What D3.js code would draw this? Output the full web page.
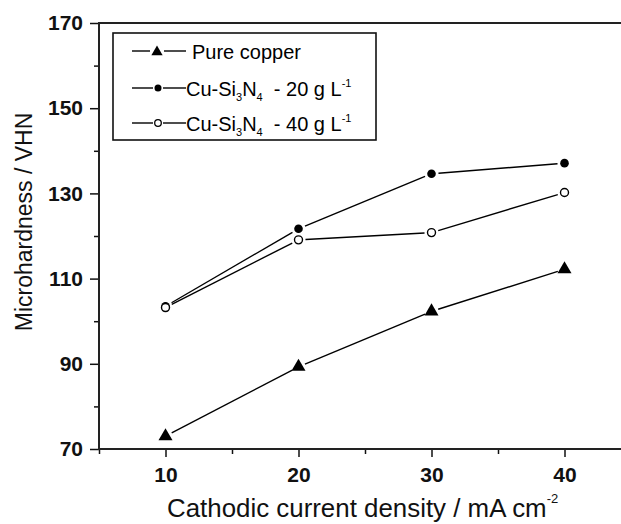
<!DOCTYPE html>
<html>
<head>
<meta charset="utf-8">
<script src="https://cdn.jsdelivr.net/npm/d3@7"></script>
<style>
  body { margin: 0; background: #fff; }
  svg { display: block; font-family: Arial, "Liberation Sans", sans-serif; }
</style>
</head>
<body>
<svg id="chart" width="621" height="524"></svg>
<script>
// values
var density = [10, 20, 30, 40];
var pureCopper = [73, 89.3, 102.3, 112.2];
var cuSi20 = [103.5, 121.7, 134.6, 137.1];
var cuSi40 = [103.2, 119.1, 120.8, 130.2];
var yMajor = [70, 90, 110, 130, 150, 170];
var yMinor = [80, 100, 120, 140, 160];
var xMajor = [10, 20, 30, 40];
var xMinor = [5, 15, 25, 35];

var svg = d3.select('#chart');

var x = d3.scaleLinear().domain([5, 45]).range([99, 631]);
var y = d3.scaleLinear().domain([70, 170]).range([449, 23]);

// minor ticks first, no labels
svg.append('g').attr('transform', 'translate(99,0)')
  .call(d3.axisLeft(y).tickValues(yMinor).tickSize(5).tickFormat(''))
  .call(function (g) { g.select('.domain').remove(); });
svg.append('g').attr('transform', 'translate(0,449)')
  .call(d3.axisBottom(x).tickValues(xMinor).tickSize(5).tickFormat(''))
  .call(function (g) { g.select('.domain').remove(); });

// major ticks with labels
var yAx = svg.append('g').attr('transform', 'translate(99,0)')
  .call(d3.axisLeft(y).tickValues(yMajor).tickSize(9).tickPadding(7).tickFormat(d3.format('d')));
yAx.select('.domain').remove();
var xAx = svg.append('g').attr('transform', 'translate(0,449)')
  .call(d3.axisBottom(x).tickValues(xMajor).tickSize(8).tickPadding(10).tickFormat(d3.format('d')));
xAx.select('.domain').remove();

svg.selectAll('.tick line').attr('stroke', '#111').attr('stroke-width', 1.5);
svg.selectAll('.tick text')
  .attr('font-size', 21).attr('font-weight', 'bold')
  .attr('font-family', 'Arial, "Liberation Sans", sans-serif').attr('fill', '#111');

// frame: left, bottom, top (right side runs off the picture)
svg.append('path')
  .attr('d', 'M' + x(45) + ',' + y(170) + 'H' + x(5) + 'V' + y(70) + 'H' + x(45))
  .attr('fill', 'none').attr('stroke', '#222').attr('stroke-width', 2);

// series lines, broken near each marker
var gap = 7;
function drawSeries(vals) {
  var pts = density.map(function (d, i) { return [x(d), y(vals[i])]; });
  for (var i = 0; i < pts.length - 1; i++) {
    var a = pts[i], b = pts[i + 1];
    var dx = b[0] - a[0], dy = b[1] - a[1], len = Math.sqrt(dx * dx + dy * dy);
    var ux = dx / len, uy = dy / len;
    svg.append('line')
      .attr('x1', a[0] + ux * gap).attr('y1', a[1] + uy * gap)
      .attr('x2', b[0] - ux * gap).attr('y2', b[1] - uy * gap)
      .attr('stroke', '#000').attr('stroke-width', 1.4);
  }
  return pts;
}

var tri = d3.symbol().type(d3.symbolTriangle).size(85);

drawSeries(cuSi40);
drawSeries(cuSi20);
drawSeries(pureCopper);

svg.selectAll('.m20').data(cuSi20).enter().append('circle')
  .attr('cx', function (d, i) { return x(density[i]); })
  .attr('cy', function (d) { return y(d); })
  .attr('r', 4.3).attr('fill', '#000');
svg.selectAll('.m40').data(cuSi40).enter().append('circle')
  .attr('cx', function (d, i) { return x(density[i]); })
  .attr('cy', function (d) { return y(d); })
  .attr('r', 4).attr('fill', '#fff').attr('stroke', '#000').attr('stroke-width', 1.4);
svg.selectAll('.mpc').data(pureCopper).enter().append('path')
  .attr('d', tri)
  .attr('transform', function (d, i) { return 'translate(' + x(density[i]) + ',' + y(d) + ')'; })
  .attr('fill', '#000');

// legend
svg.append('rect')
  .attr('x', 113).attr('y', 33).attr('width', 263).attr('height', 107)
  .attr('fill', '#fff').attr('stroke', '#111').attr('stroke-width', 1.6);

var legRows = [51, 88, 123];
function legLine(yy, x1, x2) {
  svg.append('line').attr('x1', x1).attr('x2', x2).attr('y1', yy).attr('y2', yy)
    .attr('stroke', '#000').attr('stroke-width', 1.4);
}
legLine(legRows[0], 132, 150); legLine(legRows[0], 164, 186);
svg.append('path').attr('d', d3.symbol().type(d3.symbolTriangle).size(55))
  .attr('transform', 'translate(157,' + (legRows[0] + 1) + ')').attr('fill', '#000');
legLine(legRows[1], 132, 153); legLine(legRows[1], 163, 186);
svg.append('circle').attr('cx', 158).attr('cy', legRows[1]).attr('r', 3.5).attr('fill', '#000');
legLine(legRows[2], 132, 153); legLine(legRows[2], 163, 186);
svg.append('circle').attr('cx', 158).attr('cy', legRows[2]).attr('r', 3.3)
  .attr('fill', '#fff').attr('stroke', '#000').attr('stroke-width', 1.3);

svg.append('text').attr('x', 192).attr('y', legRows[0] + 8)
  .attr('font-size', 20).text('Pure copper');

function cuLabel(yy, conc) {
  var t = svg.append('text').attr('x', 186).attr('y', yy).attr('font-size', 20);
  t.append('tspan').text('Cu-Si');
  t.append('tspan').attr('font-size', 11).attr('dy', 5).text('3');
  t.append('tspan').attr('dy', -5).text('N');
  t.append('tspan').attr('font-size', 11).attr('dy', 5).text('4');
  t.append('tspan').attr('dy', -5).attr('xml:space', 'preserve').text('  - ' + conc + ' g L');
  t.append('tspan').attr('font-size', 11).attr('dy', -9).text('-1');
}
cuLabel(legRows[1] + 8, 20);
cuLabel(legRows[2] + 8, 40);

// axis titles
svg.append('text')
  .attr('transform', 'translate(32,222) rotate(-90)')
  .attr('text-anchor', 'middle').attr('font-size', 23).attr('fill', '#111')
  .text('Microhardness / VHN');

// x title: fit main part to the width seen in the reference (~380px)
var xt = svg.append('text').attr('x', 167).attr('y', 517).attr('font-size', 24).attr('fill', '#111');
var xMain = xt.append('tspan').text('Cathodic current density / mA cm');
var natural = xMain.node().getComputedTextLength();
var fs = Math.min(26, 24 * 380 / natural);
xt.attr('font-size', fs);
xt.append('tspan').attr('font-size', 13).attr('dy', -14).text('-2');
</script>
</body>
</html>
